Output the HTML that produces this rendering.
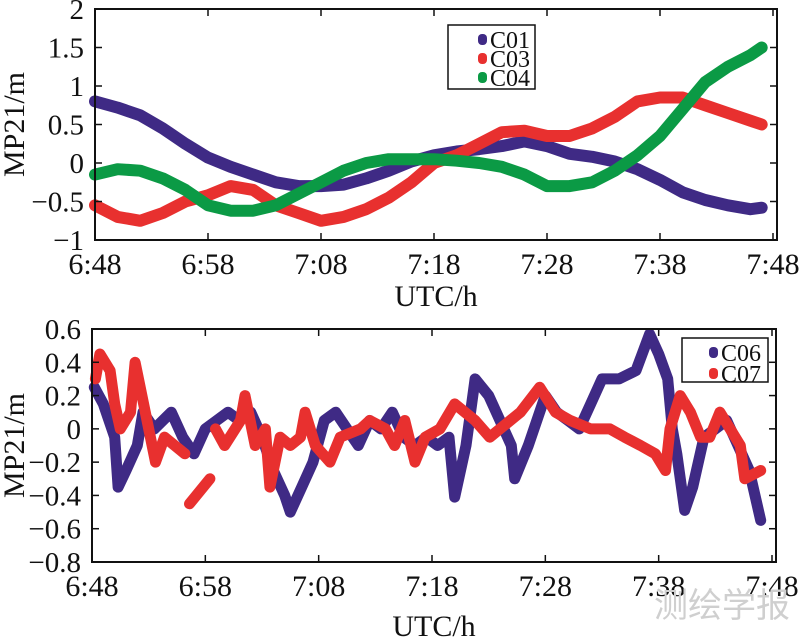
<!DOCTYPE html>
<html><head><meta charset="utf-8"><style>
body{margin:0;background:#fff;width:800px;height:637px;overflow:hidden}
svg{display:block}
text{font-family:"Liberation Serif",serif;fill:#111}
</style></head><body>
<svg id="c" width="800" height="637"></svg>
<script>
const tickLabels=["6:48","6:58","7:08","7:18","7:28","7:38","7:48"];
const topYTicks=[2,1.5,1,0.5,0,-0.5,-1];
const botYTicks=[0.6,0.4,0.2,0,-0.2,-0.4,-0.6,-0.8];
const topTimes=[0,2,4,6,8,10,12,14,16,18,20,22,24,26,28,30,32,34,36,38,40,42,44,46,48,50,52,54,56,58,59];
const c01=[0.8,0.72,0.62,0.45,0.25,0.07,-0.05,-0.15,-0.25,-0.3,-0.3,-0.28,-0.2,-0.1,0.02,0.1,0.15,0.18,0.22,0.28,0.22,0.12,0.08,0.02,-0.08,-0.22,-0.38,-0.48,-0.55,-0.6,-0.58];
const c03=[-0.55,-0.7,-0.75,-0.65,-0.5,-0.42,-0.3,-0.35,-0.55,-0.65,-0.75,-0.7,-0.6,-0.45,-0.25,0.0,0.1,0.25,0.4,0.42,0.35,0.35,0.45,0.6,0.8,0.85,0.85,0.75,0.65,0.55,0.5];
const c04=[-0.15,-0.08,-0.1,-0.2,-0.35,-0.55,-0.62,-0.62,-0.55,-0.4,-0.25,-0.1,0.0,0.05,0.05,0.05,0.03,0.0,-0.05,-0.15,-0.3,-0.3,-0.25,-0.1,0.1,0.35,0.7,1.05,1.25,1.4,1.5];
const c06Times=[0.2,1,2,2.3,3,4,4.5,5.5,7,8,9,10,11,12,13,14,15,16,17,17.5,18.5,19.5,20.5,21.5,22.5,23.5,24.5,25.5,26.5,27.5,28.5,29.5,30.5,31.5,32,33,33.8,35,36,37,37.3,38.5,40,41,42,43,44,45,46.5,48,49.2,50,50.8,51.2,51.6,52.3,53,54,55,56,57,58,59];
const c06=[0.25,0.15,-0.05,-0.35,-0.25,-0.1,0.1,0.0,0.1,-0.05,-0.15,0.0,0.05,0.1,0.05,0.1,-0.05,-0.25,-0.4,-0.5,-0.35,-0.2,0.05,0.1,0.0,-0.1,0.05,0.0,0.1,-0.05,-0.1,-0.05,-0.1,-0.05,-0.41,-0.1,0.3,0.2,0.05,-0.1,-0.3,-0.1,0.2,0.1,0.05,0.0,0.15,0.3,0.3,0.35,0.57,0.45,0.3,0.0,-0.15,-0.49,-0.35,-0.05,0.0,0.05,-0.1,-0.25,-0.55];
const c07Times=[0.3,0.7,1.6,2,2.5,3.4,3.8,4.7,5.6,6.4,7.3,8.2,null,8.6,10.4,null,10.9,11.7,13.1,13.5,14.4,15.3,15.7,16.6,17.5,18.4,18.8,19.7,21,21.9,23.7,24.5,25.9,26.7,27.6,28.5,29.4,30.7,32,32.9,33.8,35.1,36,37.8,39.5,40.9,42.2,44,45.7,47,48.4,49.7,50.6,51,51.9,52.8,53.7,54.5,55.4,56.3,57.2,57.6,59];
const c07=[0.3,0.45,0.35,0.15,0.0,0.1,0.4,0.1,-0.2,-0.05,-0.1,-0.15,null,-0.45,-0.3,null,0.0,-0.1,0.05,0.2,-0.1,0.0,-0.35,-0.05,-0.1,-0.05,0.1,-0.1,-0.2,-0.05,0.0,0.05,0.0,-0.1,0.05,-0.2,-0.05,0.0,0.15,0.1,0.05,-0.05,0.0,0.1,0.25,0.1,0.05,0.0,0.0,-0.05,-0.1,-0.15,-0.25,0.0,0.2,0.1,-0.05,-0.05,0.1,0.0,-0.1,-0.3,-0.25];

const svg=document.getElementById('c');
const NS='http://www.w3.org/2000/svg';
function mk(tag,attrs,parent){const e=document.createElementNS(NS,tag);for(const k in attrs)e.setAttribute(k,attrs[k]);(parent||svg).appendChild(e);return e;}

function panel(cfg){
  const {x0,x1,y0,y1,ymax,ymin,yticks,name}=cfg;
  const g=mk('g',{});
  
  
  const X=t=>x0+(t/60)*(x1-x0-4);
  const Y=v=>y0+(ymax-v)/(ymax-ymin)*(y1-y0);
  cfg.series.forEach(s=>{
    let d='',pen=false;
    for(let i=0;i<s.vals.length;i++){
      const v=s.vals[i],t=s.times[i];
      if(v===null||t===null){pen=false;continue;}
      d+=(pen?'L':'M')+X(t).toFixed(1)+' '+Y(v).toFixed(1)+' ';pen=true;
    }
    const p=mk('path',{d:d,fill:'none',stroke:s.color,'stroke-width':cfg.sw,'stroke-linejoin':'round','stroke-linecap':'round'},g);
    
    
  });
  const fr=mk('rect',{x:x0,y:y0,width:x1-x0,height:y1-y0,fill:'none',stroke:'#111','stroke-width':2},g);
  
  
  yticks.forEach(v=>{
    const y=Y(v);
    mk('line',{x1:x0,x2:x0+7,y1:y,y2:y,stroke:'#111','stroke-width':1.5},g);
    mk('line',{x1:x1-7,x2:x1,y1:y,y2:y,stroke:'#111','stroke-width':1.5},g);
    const tx=mk('text',{x:x0-11,y:y+10,'text-anchor':'end','font-size':29},g);
    tx.textContent=(v<0?'\u2212':'')+Math.abs(v);
    
    
  });
  tickLabels.forEach((lb,i)=>{
    const x=X(i*10);
    mk('line',{x1:x,x2:x,y1:y1,y2:y1-7,stroke:'#111','stroke-width':1.5},g);
    mk('line',{x1:x,x2:x,y1:y0,y2:y0+7,stroke:'#111','stroke-width':1.5},g);
    const tx=mk('text',{x:x,y:y1+34,'text-anchor':'middle','font-size':30},g);
    tx.textContent=lb;
    
    
  });
  const xt=mk('text',{x:(x0+x1)/2,y:y1+cfg.tY,'text-anchor':'middle','font-size':30},g);
  xt.textContent='UTC/h';
  
  
  const cy=(y0+y1)/2;
  const yt=mk('text',{x:24,y:cy,'text-anchor':'middle','font-size':30,transform:'rotate(-90 24 '+cy+')'},g);
  yt.textContent='MP21/m';
  
  
  const L=cfg.legend;
  const lg=mk('g',{},g);
  
  
  mk('rect',{x:L.x,y:L.y,width:L.w,height:L.h,fill:'#fff',stroke:'#111','stroke-width':1.5},lg);
  cfg.series.forEach((s,i)=>{
    const yy=L.y+14+i*L.step;
    mk('rect',{x:L.x+L.mx,y:yy-5,width:9,height:11,rx:4,fill:s.color},lg);
    const t=mk('text',{x:L.x+L.mx+12,y:yy+9,'font-size':24},lg);
    t.textContent=s.label;
    
    
  });
}

panel({name:'top-panel',x0:95,x1:777,y0:9,y1:240,ymax:2,ymin:-1,yticks:topYTicks,sw:12,tY:66,
  series:[{label:'C01',color:'#3f2a85',times:topTimes,vals:c01},{label:'C03',color:'#e8302f',times:topTimes,vals:c03},{label:'C04',color:'#0b9a45',times:topTimes,vals:c04}],
  legend:{x:448,y:25,w:87,h:64,step:19,mx:30}});
panel({name:'bottom-panel',x0:92,x1:776,y0:329,y1:562,ymax:0.6,ymin:-0.8,yticks:botYTicks,sw:11,tY:74,
  series:[{label:'C06',color:'#3f2a85',times:c06Times,vals:c06},{label:'C07',color:'#e8302f',times:c07Times,vals:c07}],
  legend:{x:682,y:338,w:86,h:44,step:21,mx:27}});

const wm=mk('text',{x:790,y:617,'text-anchor':'end','font-size':34,style:'fill:#cfcfcf;font-family:"Liberation Sans","Noto Sans CJK SC",sans-serif'});
wm.textContent='测绘学报';


</script>
</body></html>
